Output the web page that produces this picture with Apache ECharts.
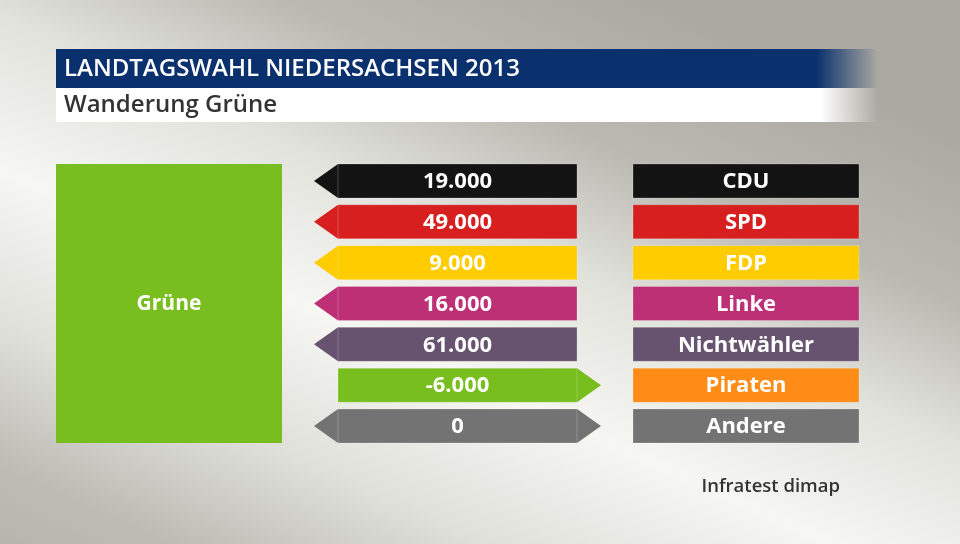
<!DOCTYPE html>
<html><head><meta charset="utf-8">
<script src="https://cdn.jsdelivr.net/npm/echarts@6/dist/echarts.min.js"></script>
<style>html,body{margin:0;padding:0;background:#fff}#c{width:960px;height:544px;}</style>
</head><body><div id="c"></div>
<script>
// ---- data ----
const parties = ['CDU', 'SPD', 'FDP', 'Linke', 'Nichtwähler', 'Piraten', 'Andere'];
const flows = [19000, 49000, 9000, 16000, 61000, -6000, 0];
const partyColors = ['#131313', '#d71f1f', '#ffcc00', '#bd3075', '#67536f', '#ff8c16', '#737373'];
const focusParty = 'Grüne';
const focusColor = '#78be1e';
const titleText = 'LANDTAGSWAHL NIEDERSACHSEN 2013';
const subtitleText = 'Wanderung Grüne';
const sourceText = 'Infratest dimap';

// ---- helpers ----
const FONT = '"Open Sans", "Noto Sans", sans-serif';
function fmt(v) {
  const s = Math.abs(v).toString().replace(/\B(?=(\d{3})+(?!\d))/g, '.');
  return (v < 0 ? '-' : '') + s;
}
const BAR_FRAC = 34 / 40.83;

const chart = echarts.init(document.getElementById('c'), null, { renderer: 'canvas' });

const option = {
  animation: false,
  grid: { left: 0, right: 0, top: 160.6, height: 285.8 },
  xAxis: { type: 'value', min: 0, max: 960, show: false },
  yAxis: { type: 'category', data: parties, inverse: true, show: false },
  graphic: [
    { type: 'rect', z: -10, shape: { x: 0, y: 0, width: 960, height: 544 },
      style: { fill: { type: 'linear', global: true, x: 652, y: 2, x2: 308, y2: 768,
        colorStops: [
          { offset: 0, color: '#aba9a2' },
          { offset: 0.18, color: '#bab9b2' },
          { offset: 0.33, color: '#e2e2dd' },
          { offset: 0.5, color: '#f6f6f2' },
          { offset: 0.67, color: '#e0e0db' },
          { offset: 0.82, color: '#bdbcb5' },
          { offset: 1, color: '#aeada6' } ] } } },
    { type: 'rect', z: -5, shape: { x: 56, y: 49, width: 822, height: 39 },
      style: { fill: { type: 'linear', x: 0, y: 0, x2: 1, y2: 0,
        colorStops: [ { offset: 0, color: '#0a306d' }, { offset: 0.925, color: '#0a306d' },
                      { offset: 1, color: 'rgba(10,48,109,0)' } ] } } },
    { type: 'rect', z: -5, shape: { x: 56, y: 88, width: 822, height: 34 },
      style: { fill: { type: 'linear', x: 0, y: 0, x2: 1, y2: 0,
        colorStops: [ { offset: 0, color: '#ffffff' }, { offset: 0.93, color: '#ffffff' },
                      { offset: 1, color: 'rgba(255,255,255,0)' } ] } } },
    { type: 'text', x: 64, y: 69, z: 5,
      style: { text: titleText, fill: '#ffffff', font: '600 24px ' + FONT, verticalAlign: 'middle' } },
    { type: 'text', x: 64, y: 105, z: 5,
      style: { text: subtitleText, fill: '#333333', font: '600 24px ' + FONT, verticalAlign: 'middle' } },
    { type: 'text', x: 840, y: 487, z: 5,
      style: { text: sourceText, fill: '#333333', font: '600 18.5px ' + FONT, align: 'right', verticalAlign: 'middle' } }
  ],
  series: [
    {
      // focus party block spanning all categories
      type: 'custom', name: focusParty,
      data: [[0, parties.length - 1]],
      encode: { y: 0 },
      renderItem: function (params, api) {
        const a = api.coord([56, api.value(0)]);
        const b = api.coord([282, api.value(1)]);
        const h = api.size([0, 1])[1] * BAR_FRAC;
        const y0 = a[1] - h / 2, y1 = b[1] + h / 2;
        return { type: 'group', children: [
          { type: 'rect', shape: { x: a[0], y: y0, width: b[0] - a[0], height: y1 - y0 },
            style: { fill: focusColor } },
          { type: 'text', x: (a[0] + b[0]) / 2, y: (y0 + y1) / 2 + 1,
            style: { text: focusParty, fill: '#fff', font: 'bold 21px ' + FONT, align: 'center', verticalAlign: 'middle' } }
        ] };
      }
    },
    {
      type: 'custom', name: 'Wanderung',
      data: flows.map((v, i) => [i, v]),
      encode: { y: 0 },
      renderItem: function (params, api) {
        const i = api.value(0), v = api.value(1);
        const L = api.coord([338, i]), R = api.coord([577, i]);
        const tipL = api.coord([314, i])[0], tipR = api.coord([601, i])[0];
        const h = api.size([0, 1])[1] * BAR_FRAC;
        const yc = L[1], y0 = yc - h / 2, y1 = yc + h / 2;
        const color = v < 0 ? focusColor : partyColors[i];
        const edge = 'rgba(255,255,255,0.22)';
        const children = [];
        if (v >= 0) children.push({ type: 'polygon', shape: { points: [[L[0], y0], [tipL, yc], [L[0], y1]] },
          style: { fill: color } });
        if (v <= 0) children.push({ type: 'polygon', shape: { points: [[R[0], y0], [tipR, yc], [R[0], y1]] },
          style: { fill: color } });
        children.push({ type: 'rect', shape: { x: L[0], y: y0, width: R[0] - L[0], height: h },
          style: { fill: color, stroke: edge, lineWidth: 1 } });
        children.push({ type: 'text', x: (L[0] + R[0]) / 2, y: yc + 1,
          style: { text: fmt(v), fill: '#ffffff', font: 'bold 22px ' + FONT, align: 'center', verticalAlign: 'middle' } });
        return { type: 'group', children: children };
      }
    },
    {
      type: 'custom', name: 'Parteien',
      data: parties.map((p, i) => [i]),
      encode: { y: 0 },
      renderItem: function (params, api) {
        const i = api.value(0);
        const L = api.coord([633, i]), R = api.coord([859, i]);
        const h = api.size([0, 1])[1] * BAR_FRAC;
        const yc = L[1];
        return { type: 'group', children: [
          { type: 'rect', shape: { x: L[0], y: yc - h / 2, width: R[0] - L[0], height: h },
            style: { fill: partyColors[i], stroke: 'rgba(255,255,255,0.22)', lineWidth: 1 } },
          { type: 'text', x: (L[0] + R[0]) / 2, y: yc + 1,
            style: { text: parties[i], fill: '#ffffff', font: 'bold 22px ' + FONT, align: 'center', verticalAlign: 'middle' } }
        ] };
      }
    }
  ]
};
chart.setOption(option);
</script>
</body></html>
